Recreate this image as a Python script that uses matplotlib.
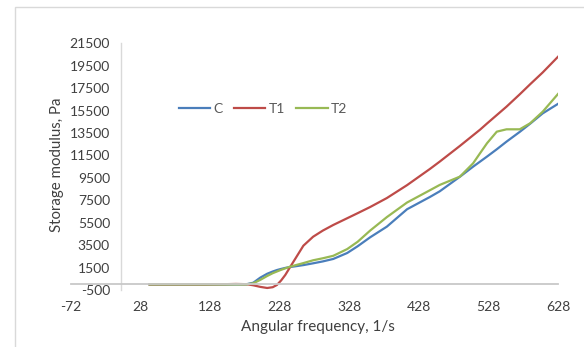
import matplotlib.pyplot as plt
from matplotlib.patches import Rectangle

# angular frequency, 1/s
freq = [41, 80, 120, 150, 165, 180, 190, 200, 210, 218, 224, 230, 236, 243, 250, 262, 276, 290,
        305, 325, 340, 358, 382, 411, 444, 458, 487, 506, 516, 526, 540, 554, 573, 588, 606, 628]

# storage modulus, Pa
c_vals = [0, 0, 0, 0, 0, 10, 150, 600, 950, 1150, 1280, 1380, 1470, 1550, 1610, 1720, 1880, 2050,
          2270, 2800, 3400, 4200, 5150, 6700, 7800, 8300, 9600, 10500, 10950, 11400, 12050, 12730,
          13600, 14330, 15250, 16100]
t1_vals = [0, 0, 0, 20, 40, 20, -80, -220, -320, -250, -50, 350, 840, 1550, 2250, 3450, 4250, 4800,
           5300, 5900, 6350, 6900, 7700, 8850, 10300, 10950, 12350, 13300, 13800, 14350, 15100, 15850,
           16950, 17850, 18900, 20300]
t2_vals = [0, 0, 0, 0, 0, 0, 100, 400, 750, 1000, 1150, 1300, 1430, 1580, 1700, 1900, 2150, 2330,
           2550, 3150, 3800, 4800, 6000, 7300, 8400, 8870, 9610, 10800, 11700, 12590, 13620, 13830,
           13830, 14370, 15400, 16980]

x_ticks = [-72, 28, 128, 228, 328, 428, 528, 628]
y_ticks = list(range(-500, 21501, 2000))

plt.rcParams['font.family'] = ['Lato', 'DejaVu Sans']
plt.rcParams['axes.unicode_minus'] = False

fig = plt.figure(figsize=(5.84, 3.47), dpi=100)
ax = fig.add_axes([71 / 584, 1 - 290 / 347, 487 / 584, 246.7 / 347])

ax.plot(freq, c_vals, color='#4A7EBB', lw=1.6, label='C')
ax.plot(freq, t1_vals, color='#BE4B48', lw=1.6, label='T1')
ax.plot(freq, t2_vals, color='#98B954', lw=1.6, label='T2')

ax.set_xlim(-72, 628)
ax.set_ylim(-500, 21500)
ax.set_xticks(x_ticks)
ax.set_yticks(y_ticks)

for s in ['top', 'right']:
    ax.spines[s].set_visible(False)
ax.spines['left'].set_position(('data', 0))
ax.spines['bottom'].set_position(('data', 0))
ax.spines['left'].set_color('#D9D9D9')
ax.spines['bottom'].set_color('#C8C8C8')
ax.spines['left'].set_linewidth(1.0)
ax.spines['bottom'].set_linewidth(1.3)

ax.tick_params(axis='y', length=0, pad=8, labelsize=10, labelcolor='#404040')
ax.tick_params(axis='x', length=0, pad=12, labelsize=10, labelcolor='#404040')

fig.text(57 / 584, 1 - 165 / 347, 'Storage modulus, Pa', rotation=90,
         ha='center', va='center', fontsize=10.8, color='#404040')
fig.text(318 / 584, 1 - 327 / 347, 'Angular frequency, 1/s',
         ha='center', va='center', fontsize=11, color='#404040')

leg = ax.legend(loc='center left', bbox_to_anchor=(0.222, 0.735), ncol=3, frameon=False,
                fontsize=10, handlelength=2.25, handletextpad=0.25, columnspacing=0.8,
                borderaxespad=0, borderpad=0)
for t in leg.get_texts():
    t.set_color('#595959')

fig.patches.append(Rectangle((15 / 584, -0.1), 1.2, 1.1 - 7 / 347, transform=fig.transFigure,
                             fill=False, edgecolor='#D9D9D9', lw=1.0))

fig.savefig('out.png', dpi=100)
